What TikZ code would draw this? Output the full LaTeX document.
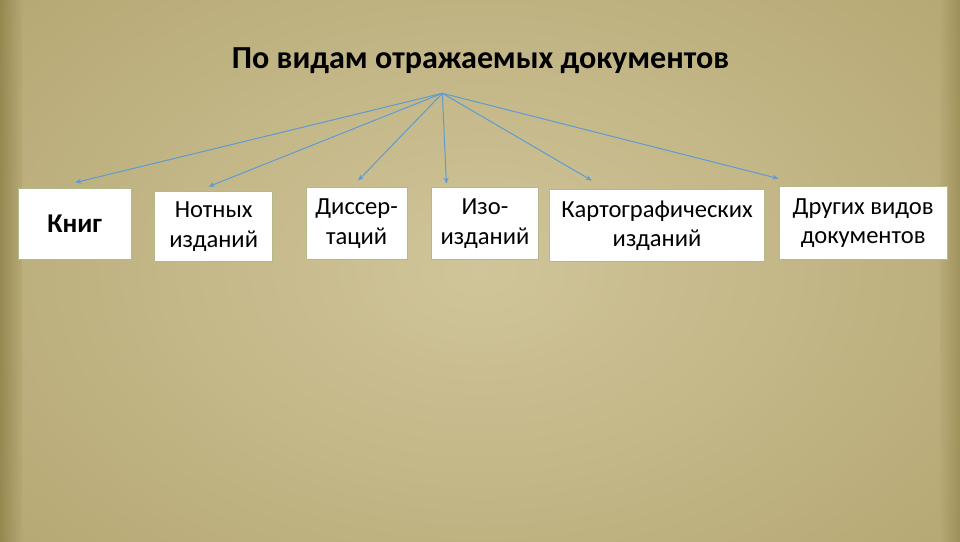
\documentclass[tikz,border=0pt]{standalone}
\usepackage{fontspec}
\setmainfont{Carlito}
\usetikzlibrary{arrows.meta,calc}
\definecolor{paperin}{RGB}{208,197,154}
\definecolor{paperout}{RGB}{182,168,116}
\definecolor{paperedge}{RGB}{140,128,70}
\definecolor{arrowblue}{RGB}{95,155,210}
\definecolor{boxedge}{RGB}{178,186,140}
\tikzset{
  catbox/.style={draw=boxedge, line width=0.8pt, fill=white, align=center,
    font=\fontsize{24.5}{29.5}\selectfont, inner sep=0pt},
  link/.style={draw=arrowblue, line width=1pt, -{Stealth[length=6pt,width=5pt]}},
  titletext/.style={font=\bfseries\fontsize{32}{36}\selectfont}
}
\begin{document}
\begin{tikzpicture}[x=1pt,y=-1pt]
\useasboundingbox (0,0) rectangle (957,540);
\shade[inner color=paperin, outer color=paperout] (-150,-150) rectangle (1107,690);
\shade[left color=paperedge, right color=paperout, opacity=0.8] (0,0) rectangle (22,540);
\shade[right color=paperedge, left color=paperout, opacity=0.6] (937,0) rectangle (957,540);
\node[titletext] (title) at (479,60) {По видам отражаемых документов};
\coordinate (hub) at (441,93);
\node[catbox, minimum width=113pt, minimum height=71pt, font=\bfseries\fontsize{27}{30}\selectfont] (b1) at (74.5,223.5) {Книг};
\node[catbox, minimum width=118pt, minimum height=70pt] (b2) at (213,226) {Нотных\\изданий};
\node[catbox, minimum width=101pt, minimum height=72pt] (b3) at (355.5,223) {Диссер-\\таций};
\node[catbox, minimum width=107pt, minimum height=72pt] (b4) at (483.5,223) {Изо-\\изданий};
\node[catbox, minimum width=214pt, minimum height=72pt] (b5) at (655,225) {Картографических\\изданий};
\node[catbox, minimum width=167pt, minimum height=73pt] (b6) at (860.5,222.5) {Других видов\\документов};
\coordinate (e1) at (75,182);
\coordinate (e2) at (208,186);
\coordinate (e3) at (357,180);
\coordinate (e4) at (445,183);
\coordinate (e5) at (590,180);
\coordinate (e6) at (776,178);
\foreach \i in {1,...,6} \draw[link] (hub) -- (e\i);
\end{tikzpicture}
\end{document}
